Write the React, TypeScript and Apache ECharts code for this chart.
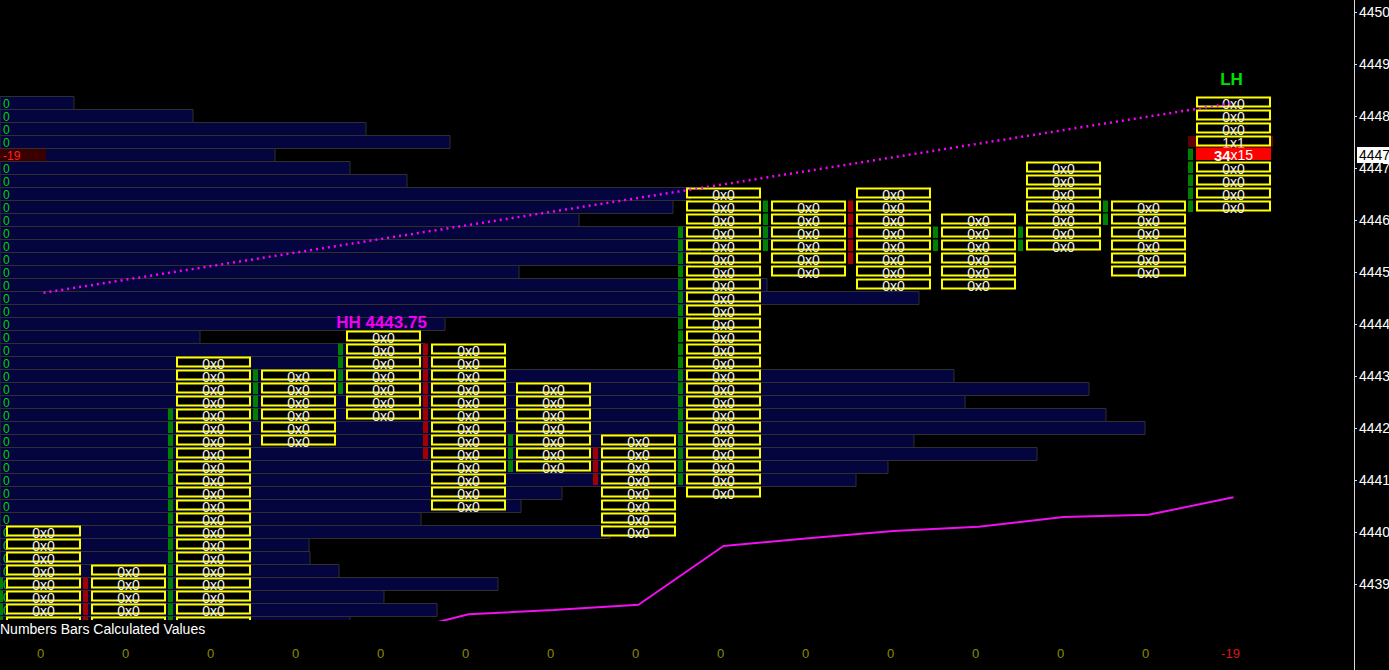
import React, { useEffect, useRef } from "react";
import * as echarts from "echarts";

// ---------- data ----------
const TICK = 0.25;
const LAST_PRICE = 4447.25;

// footprint columns (one per bar)
const colHigh = [4440, 4439.25, 4443.25, 4443, 4443.75, 4443.5, 4442.75, 4441.75, 4446.5, 4446.25, 4446.5, 4446, 4447, 4446.25, 4448.25];
const colLow = [4438, 4438, 4438, 4441.75, 4442.25, 4440.5, 4441.25, 4440, 4440.75, 4445, 4444.75, 4444.75, 4445.5, 4445, 4446.25];
// candle body (open/close) shown as the thin bar left of each column
const bodyTop = [4439, 4439, 4442.25, 4443, 4443.5, 4443.5, 4441.75, 4441.5, 4445.75, 4446.25, 4446.25, 4445.75, 4445.75, 4446.25, 4447.25];
const bodyBottom = [4438, 4438, 4438, 4442.25, 4442.75, 4441.5, 4441.25, 4441, 4441, 4445.5, 4445.25, 4445.5, 4445.5, 4446, 4446.25];
const bodyDir = ["up", "down", "up", "up", "up", "down", "up", "down", "up", "up", "down", "up", "up", "up", "up"];

// cells with non-zero bid x ask
const specialCells = [
  { col: 14, price: 4447.5, bid: 1, ask: 1, kind: "last" },
  { col: 14, price: 4447.25, bid: 34, ask: 15, kind: "current" },
];

// volume profile (left), from top price downward one tick per row
const profileTop = 4448.25;
const profileVolume = [
  74, 193, 366, 450, 275, 350, 407, 690, 673, 579,
  800, 700, 690, 519, 767, 919, 690, 445, 200, 425,
  480, 954, 1089, 965, 1106, 1145, 914, 1037, 888, 856,
  562, 521, 421, 610, 309, 310, 339, 498, 384, 437,
  350,
];
const profileDelta = [
  0, 0, 0, 0, -19, 0, 0, 0, 0, 0,
  0, 0, 0, 0, 0, 0, 0, 0, 0, 0,
  0, 0, 0, 0, 0, 0, 0, 0, 0, 0,
  0, 0, 0, 0, 0, 0, 0, 0, 0, 0,
  0,
];

// magenta study line (one value per column)
const lineValues = [4437.5, 4437.6, 4437.75, 4437.9, 4438.0, 4438.42, 4438.5, 4438.6, 4439.73, 4439.88, 4440.02, 4440.1, 4440.29, 4440.33, 4440.67];
// dotted trend line between swing points
const trendLine = [[0, 4444.6], [14, 4448.25]];
const swingLabels = [
  { col: 4, price: 4443.75, kind: "HH", text: "HH 4443.75" },
  { col: 14, price: 4448.25, kind: "LH", text: "LH" },
];
const bottomValues = [0, 0, 0, 0, 0, 0, 0, 0, 0, 0, 0, 0, 0, 0, -19];
const bottomTitle = "Numbers Bars Calculated Values";
const yTicks = [4439, 4440, 4441, 4442, 4443, 4444, 4445, 4446, 4447, 4448, 4449, 4450];

// axis ranges
const X_MIN = -0.5118;
const X_MAX = 15.4176;
const VOL_MAX = 1354;
const Y_MIN = 4438.3077;
const Y_MAX = 4450.2308;

// ---------- styles ----------
const FONT = "Liberation Sans";
const labelStyle: Record<string, { color: string; lift: number }> = {
  HH: { color: "#f000f0", lift: 15 },
  LH: { color: "#00e000", lift: 24 },
};

type Cell = { col: number; price: number; bid: number; ask: number; kind: string };
const cellItems: Cell[] = [];
for (let c = 0; c < colHigh.length; c++) {
  for (let p = colHigh[c]; p >= colLow[c] - 1e-9; p -= TICK) {
    const sp = specialCells.find((s) => s.col === c && Math.abs(s.price - p) < 1e-6);
    cellItems.push({ col: c, price: p, bid: sp ? sp.bid : 0, ask: sp ? sp.ask : 0, kind: sp ? sp.kind : "normal" });
  }
}
const bodyItems: { col: number; price: number; dir: string }[] = [];
for (let c = 0; c < bodyTop.length; c++) {
  for (let p = bodyTop[c]; p >= bodyBottom[c] - 1e-9; p -= TICK) {
    bodyItems.push({ col: c, price: p, dir: bodyDir[c] });
  }
}

export default function App() {
  const ref = useRef<HTMLDivElement>(null);
  useEffect(() => {
    if (!ref.current) return;
    const chart = echarts.init(ref.current, null, { renderer: "svg" });

    const option: any = {
      animation: false,
      backgroundColor: "#000",
      grid: { left: 0, right: 35, top: 0, height: 620, containLabel: false, outerBoundsMode: "none" },
      xAxis: [
        { type: "value", min: X_MIN, max: X_MAX, show: false },
        { type: "value", min: 0, max: VOL_MAX, show: false },
      ],
      yAxis: {
        type: "value",
        position: "right",
        min: Y_MIN,
        max: Y_MAX,
        axisLine: { show: true, onZero: false, lineStyle: { color: "#d8d8d8", width: 1 } },
        axisTick: { show: true, inside: false, length: 3, customValues: yTicks, lineStyle: { color: "#d8d8d8" } },
        axisLabel: {
          show: true,
          color: "#ffffff",
          fontSize: 14,
          fontFamily: FONT,
          margin: 5,
          customValues: yTicks,
          formatter: (v: number) => String(v),
        },
        splitLine: { show: false },
      },
      graphic: [
        { type: "line", shape: { x1: 1354.5, y1: 620, x2: 1354.5, y2: 670 }, style: { stroke: "#d8d8d8", lineWidth: 1 } },
        { type: "text", left: 0, top: 622, style: { text: bottomTitle, fill: "#ffffff", font: `14px "${FONT}"` } },
      ],
      series: [
        // volume profile
        {
          type: "custom",
          xAxisIndex: 1,
          yAxisIndex: 0,
          clip: true,
          z: 1,
          data: profileVolume.map((v, i) => [v, profileTop - i * TICK]),
          renderItem: (params: any, api: any) => {
            const i = params.dataIndex;
            const vol = api.value(0);
            const price = api.value(1);
            const [x0, cy] = api.coord([0, price]);
            const x1 = api.coord([vol, price])[0];
            const rowH = api.size([0, TICK])[1];
            const cs = params.coordSys;
            const children: any[] = [
              {
                type: "rect",
                shape: { x: x0, y: cy - rowH / 2, width: x1 - x0, height: rowH },
                style: { fill: "#04043e", stroke: "#2f2f2f", lineWidth: 1 },
              },
            ];
            const d = profileDelta[i];
            if (d < 0) {
              children.push({
                type: "rect",
                shape: { x: x0, y: cy - rowH / 2 + 0.5, width: 46, height: rowH - 1 },
                style: { fill: "#3a0000" },
              });
            }
            if (cy < cs.y + cs.height) {
              children.push({
                type: "text",
                x: x0 + 3,
                y: cy + 0.5,
                style: {
                  text: String(d),
                  fill: d < 0 ? "#ff2020" : "#00d400",
                  fontSize: 12,
                  lineHeight: 11,
                  fontFamily: FONT,
                  align: "left",
                  verticalAlign: "middle",
                },
              });
            }
            return { type: "group", children };
          },
        },
        // candle body segments
        {
          type: "custom",
          xAxisIndex: 0,
          yAxisIndex: 0,
          clip: true,
          z: 2,
          data: bodyItems.map((b) => [b.col, b.price]),
          renderItem: (params: any, api: any) => {
            const b = bodyItems[params.dataIndex];
            const [cx, cy] = api.coord([b.col, b.price]);
            const colW = api.size([1, 0])[0];
            const rowH = api.size([0, TICK])[1];
            return {
              type: "rect",
              shape: { x: cx - colW / 2 - 3, y: cy - rowH / 2, width: 5, height: rowH - 1.5 },
              style: { fill: b.dir === "up" ? "#008000" : "#a00000" },
            };
          },
        },
        // footprint cells
        {
          type: "custom",
          xAxisIndex: 0,
          yAxisIndex: 0,
          clip: true,
          z: 3,
          data: cellItems.map((c) => [c.col, c.price]),
          renderItem: (params: any, api: any) => {
            const it = cellItems[params.dataIndex];
            const [cx, cy] = api.coord([it.col, it.price]);
            const colW = api.size([1, 0])[0];
            const rowH = api.size([0, TICK])[1];
            const cs = params.coordSys;
            const w = colW - 12;
            const top = cy - rowH / 2;
            const showText = cy < cs.y + cs.height;
            const children: any[] = [];
            if (it.kind === "last") {
              children.push({
                type: "rect",
                shape: { x: cx - colW / 2 - 3, y: top + 0.5, width: colW, height: rowH - 2 },
                style: { fill: "#600000" },
              });
            }
            if (it.kind === "current") {
              children.push({
                type: "rect",
                shape: { x: cx - w / 2 - 1, y: top - 1, width: w + 2, height: rowH - 0.5 },
                style: { fill: "#ff0000" },
              });
              children.push({
                type: "text",
                x: cx,
                y: cy,
                style: {
                  text: `{b|${it.bid}}{n|x${it.ask}}`,
                  align: "center",
                  verticalAlign: "middle",
                  rich: {
                    b: { fontSize: 15, fontWeight: "bold", fontFamily: FONT, fill: "#ffffff", color: "#ffffff", lineHeight: 12 },
                    n: { fontSize: 14, fontFamily: FONT, fill: "#ffffff", color: "#ffffff", lineHeight: 12 },
                  },
                },
              });
            } else {
              children.push({
                type: "rect",
                shape: { x: cx - w / 2, y: top + 1, width: w, height: rowH - 4 },
                style: { fill: "#000000", stroke: "#ffff00", lineWidth: 2 },
              });
              if (showText) {
                children.push({
                  type: "text",
                  x: cx,
                  y: cy + 0.5,
                  style: {
                    text: `${it.bid}x${it.ask}`,
                    fill: "#f2f2f2",
                    fontSize: 14,
                    lineHeight: 12,
                    fontFamily: FONT,
                    align: "center",
                    verticalAlign: "middle",
                  },
                });
              }
            }
            return { type: "group", children };
          },
        },
        // magenta study line
        {
          type: "line",
          xAxisIndex: 0,
          yAxisIndex: 0,
          z: 5,
          clip: true,
          symbol: "none",
          data: lineValues.map((v, i) => [i, v]),
          lineStyle: { color: "#f010f0", width: 2 },
        },
        // dotted trend line
        {
          type: "line",
          xAxisIndex: 0,
          yAxisIndex: 0,
          z: 6,
          clip: true,
          symbol: "none",
          data: trendLine,
          lineStyle: { color: "#ff00ff", width: 2.5, type: [2, 4] },
        },
        // swing labels
        {
          type: "custom",
          xAxisIndex: 0,
          yAxisIndex: 0,
          clip: false,
          z: 7,
          data: swingLabels.map((s) => [s.col, s.price]),
          renderItem: (params: any, api: any) => {
            const s = swingLabels[params.dataIndex];
            const [cx, cy] = api.coord([s.col, s.price]);
            const st = labelStyle[s.kind];
            return {
              type: "text",
              x: cx - 2,
              y: cy - st.lift,
              style: {
                text: s.text,
                fill: st.color,
                fontSize: 17,
                fontWeight: "bold",
                fontFamily: FONT,
                align: "center",
                verticalAlign: "middle",
              },
            };
          },
        },
        // bottom calculated values
        {
          type: "custom",
          xAxisIndex: 0,
          yAxisIndex: 0,
          clip: false,
          z: 7,
          data: bottomValues.map((v, i) => [i, Y_MIN, v]),
          renderItem: (params: any, api: any) => {
            const v = bottomValues[params.dataIndex];
            const cx = api.coord([params.dataIndex, Y_MIN])[0];
            const cs = params.coordSys;
            return {
              type: "text",
              x: cx - 3,
              y: cs.y + cs.height + 33,
              style: {
                text: String(v),
                fill: v < 0 ? "#d81818" : "#8c8c00",
                fontSize: 13,
                fontFamily: FONT,
                align: "center",
                verticalAlign: "middle",
              },
            };
          },
        },
        // current price marker on the axis
        {
          type: "custom",
          xAxisIndex: 0,
          yAxisIndex: 0,
          clip: false,
          z: 8,
          data: [[0, LAST_PRICE]],
          renderItem: (params: any, api: any) => {
            const cy = api.coord([0, LAST_PRICE])[1];
            const cs = params.coordSys;
            const right = cs.x + cs.width;
            return {
              type: "group",
              children: [
                { type: "rect", shape: { x: right + 3, y: cy - 8, width: 40, height: 16 }, style: { fill: "#ffffff" } },
                {
                  type: "text",
                  x: right + 5,
                  y: cy,
                  style: {
                    text: LAST_PRICE.toFixed(2),
                    fill: "#000000",
                    fontSize: 14,
                    fontFamily: FONT,
                    align: "left",
                    verticalAlign: "middle",
                  },
                },
              ],
            };
          },
        },
      ],
    };

    chart.setOption(option);
    return () => chart.dispose();
  }, []);

  return (
    <div
      ref={ref}
      style={{ position: "fixed", left: 0, top: 0, width: 1389, height: 670, background: "#000" }}
    />
  );
}
